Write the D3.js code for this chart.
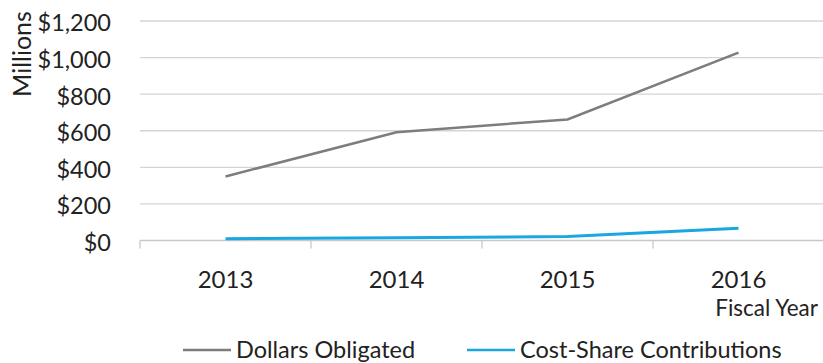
<!DOCTYPE html>
<html>
<head>
<meta charset="utf-8">
<script src="https://cdn.jsdelivr.net/npm/d3@7"></script>
<style>
  body { margin: 0; background: #fff; }
  text { font-family: Lato, "Open Sans", sans-serif; }
</style>
</head>
<body>
<div id="chart"></div>
<script>
// data
let years = ['2013', '2014', '2015', '2016']
let dollarsObligated = [350, 592, 662, 1027]
let costShare = [10, 15, 22, 67]
let yTicks = [0, 200, 400, 600, 800, 1000, 1200]
let seriesNames = ['Dollars Obligated', 'Cost-Share Contributions']
let seriesColors = ['#7d7d7d', '#1aa7e0']

let width = 823
let height = 363

let xScale = d3.scaleBand()
	.domain(years)
	.range([140, 824])

let yScale = d3.scaleLinear()
	.domain([0, 1200])
	.range([240.5, 21])

const svg = d3.select('#chart')
	.append('svg')
	.attr('width', width)
	.attr('height', height)

// gridlines
svg.append('g')
	.selectAll('line')
	.data(yTicks.filter(d => d > 0))
	.enter()
	.append('line')
	.attr('x1', 140)
	.attr('x2', width)
	.attr('y1', d => yScale(d))
	.attr('y2', d => yScale(d))
	.attr('stroke', '#d4d4d4')
	.attr('stroke-width', 1.3)

// x axis with boundary ticks
let xG = svg.append('g')
	.attr('transform', `translate(0,${yScale(0)})`)

xG.append('line')
	.attr('x1', 140)
	.attr('x2', width)
	.attr('stroke', '#c8c8c8')
	.attr('stroke-width', 1.3)

xG.selectAll('.tk')
	.data(years)
	.enter()
	.append('line')
	.attr('x1', d => xScale(d))
	.attr('x2', d => xScale(d))
	.attr('y1', 0)
	.attr('y2', 8)
	.attr('stroke', '#c8c8c8')
	.attr('stroke-width', 1.3)

xG.selectAll('text')
	.data(years)
	.enter()
	.append('text')
	.attr('x', d => xScale(d) + xScale.bandwidth() / 2)
	.attr('y', 47.5)
	.attr('text-anchor', 'middle')
	.attr('font-size', 24)
	.attr('fill', '#222')
	.text(d => d)

// y axis labels
svg.append('g')
	.selectAll('text')
	.data(yTicks)
	.enter()
	.append('text')
	.attr('x', 111)
	.attr('y', d => yScale(d) + 2)
	.attr('dy', '0.36em')
	.attr('text-anchor', 'end')
	.attr('font-size', 23.5)
	.attr('fill', '#222')
	.text(d => '$' + d3.format(',')(d))

svg.append('text')
	.attr('transform', 'translate(31,54) rotate(-90)')
	.attr('text-anchor', 'middle')
	.attr('font-size', 25)
	.attr('fill', '#222')
	.text('Millions')

svg.append('text')
	.attr('x', 818)
	.attr('y', 316)
	.attr('text-anchor', 'end')
	.attr('font-size', 22.5)
	.attr('fill', '#222')
	.text('Fiscal Year')

// lines
let line = d3.line()
	.x((d, i) => xScale(years[i]) + xScale.bandwidth() / 2)
	.y(d => yScale(d))

svg.append('path')
	.datum(dollarsObligated)
	.attr('d', line)
	.attr('fill', 'none')
	.attr('stroke', seriesColors[0])
	.attr('stroke-width', 2.5)

svg.append('path')
	.datum(costShare)
	.attr('d', line)
	.attr('fill', 'none')
	.attr('stroke', seriesColors[1])
	.attr('stroke-width', 3)

// legend
let legendX = [183, 467]
let legend = svg.append('g')
	.selectAll('g')
	.data(seriesNames)
	.enter()
	.append('g')
	.attr('transform', (d, i) => `translate(${legendX[i]},350)`)

legend.append('line')
	.attr('x1', 0)
	.attr('x2', 48)
	.attr('stroke', (d, i) => seriesColors[i])
	.attr('stroke-width', 2.5)

legend.append('text')
	.attr('x', 53)
	.attr('dy', '0.36em')
	.attr('font-size', 23.5)
	.attr('fill', '#222')
	.text(d => d)
</script>
</body>
</html>
